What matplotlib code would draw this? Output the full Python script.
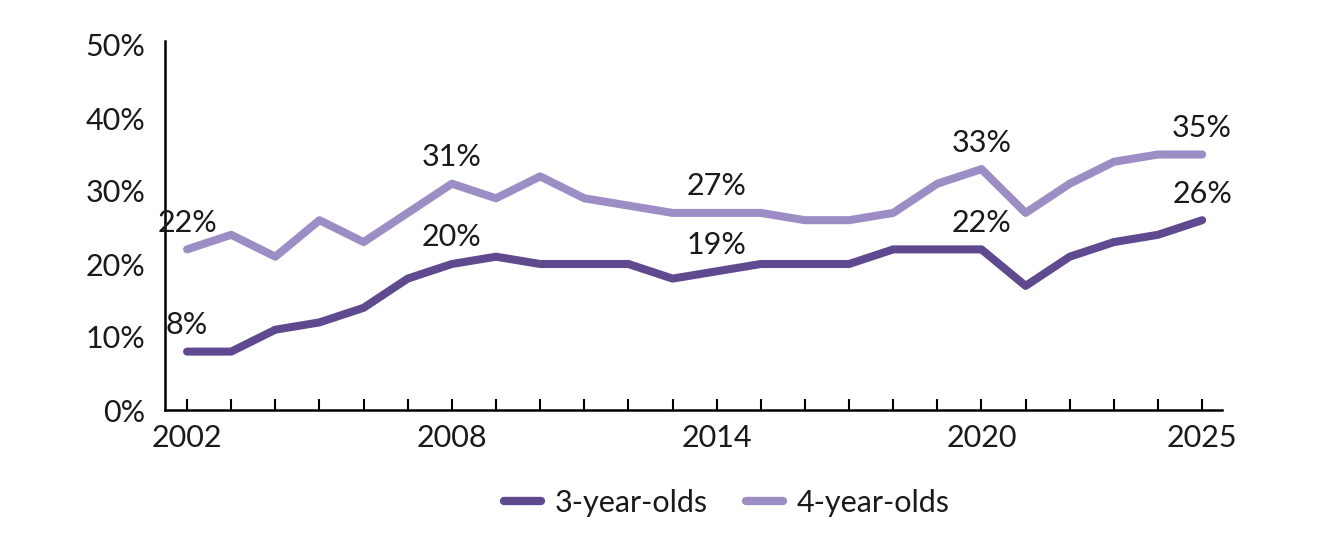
import matplotlib
matplotlib.use("Agg")
import matplotlib.pyplot as plt
from matplotlib.ticker import FuncFormatter

plt.rcParams['font.family'] = ['Lato', 'DejaVu Sans']

years = list(range(2002, 2026))
three = [8, 8, 11, 12, 14, 18, 20, 21, 20, 20, 20, 18, 19, 20, 20, 20, 22, 22, 22, 17, 21, 23, 24, 26]
four = [22, 24, 21, 26, 23, 27, 31, 29, 32, 29, 28, 27, 27, 27, 26, 26, 27, 31, 33, 27, 31, 34, 35, 35]
label_years = [2002, 2008, 2014, 2020, 2025]
tick_label_years = [2002, 2008, 2014, 2020, 2025]

c3 = '#5f4a8f'
c4 = '#9d8dc5'
tc = '#1a1a1a'

fig = plt.figure(figsize=(13.34, 5.41), dpi=100)
ax = fig.add_axes([165/1334, 1-410/541, (1222-165)/1334, (410-45)/541])

ax.plot(years, three, color=c3, lw=5.8, solid_capstyle='round', solid_joinstyle='round', label='3-year-olds')
ax.plot(years, four, color=c4, lw=5.8, solid_capstyle='round', solid_joinstyle='round', label='4-year-olds')

for y in label_years:
    i = years.index(y)
    ax.annotate(f"{three[i]}%", (y, three[i]), xytext=(0, 9), textcoords='offset points',
                ha='center', va='bottom', fontsize=22, color=tc)
    ax.annotate(f"{four[i]}%", (y, four[i]), xytext=(0, 9), textcoords='offset points',
                ha='center', va='bottom', fontsize=22, color=tc)

ax.set_xlim(2001.5, 2025.45)
ax.set_ylim(0, 50)
ax.set_yticks([0, 10, 20, 30, 40, 50])
ax.yaxis.set_major_formatter(FuncFormatter(lambda v, p: f"{int(v)}%"))
ax.set_xticks(years)
ax.set_xticklabels([str(y) if y in tick_label_years else '' for y in years])
ax.tick_params(axis='x', direction='in', length=8, width=1.5, labelsize=22, pad=10, colors='black', labelcolor=tc)
ax.tick_params(axis='y', length=0, labelsize=22, pad=14, labelcolor=tc)
for s in ['top', 'right']:
    ax.spines[s].set_visible(False)
ax.spines['left'].set_linewidth(1.8)
ax.spines['bottom'].set_linewidth(1.8)
ax.spines['left'].set_bounds(0, 50.5)

leg = fig.legend(loc='center', bbox_to_anchor=(0.545, 1-503/541), ncol=2, frameon=False,
                 fontsize=22, handlelength=1.2, columnspacing=1.25, handletextpad=0.45,
                 labelcolor=tc)
for line in leg.get_lines():
    line.set_linewidth(6)
    line.set_solid_capstyle('round')

fig.savefig('out.png', dpi=100)
